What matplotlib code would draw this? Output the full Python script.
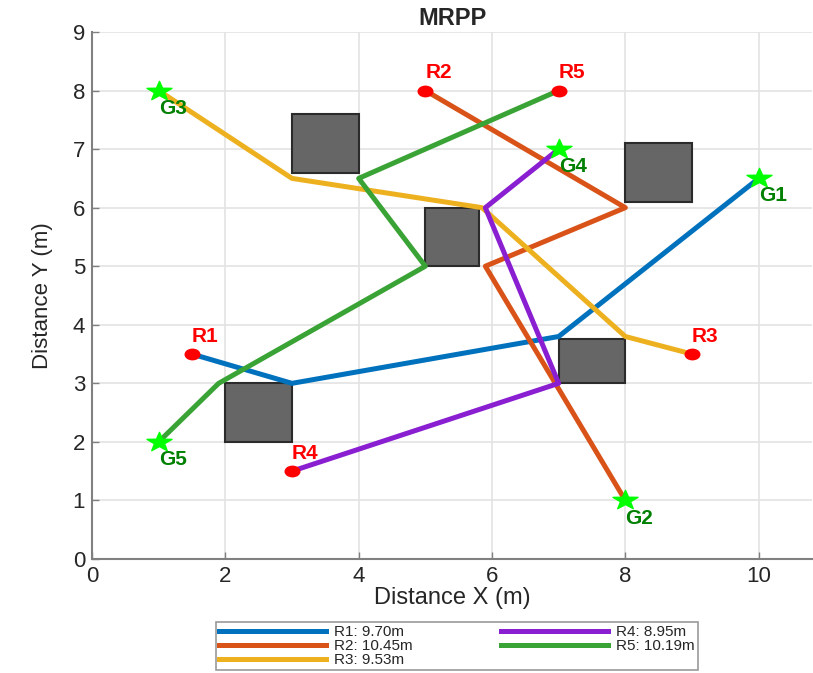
import matplotlib.pyplot as plt
from matplotlib.patches import Rectangle
from matplotlib.path import Path
from matplotlib.transforms import Affine2D

plt.rcParams['font.family'] = ['Liberation Sans', 'DejaVu Sans']

# Robot paths (waypoints in metres)
r1_x = [1.5, 3.0, 7.0, 10.0]
r1_y = [3.5, 3.0, 3.8, 6.5]
r2_x = [5.0, 8.0, 5.9, 8.0]
r2_y = [8.0, 6.0, 5.0, 1.0]
r3_x = [9.0, 8.0, 5.85, 3.0, 1.0]
r3_y = [3.5, 3.8, 6.0, 6.5, 8.0]
r4_x = [3.0, 7.0, 5.9, 7.0]
r4_y = [1.5, 3.0, 6.0, 7.0]
r5_x = [7.0, 4.0, 5.0, 1.9, 1.0]
r5_y = [8.0, 6.5, 5.0, 3.0, 2.0]
path_lengths = [9.70, 10.45, 9.53, 8.95, 10.19]
robot_names = ['R1', 'R2', 'R3', 'R4', 'R5']
goal_names = ['G1', 'G2', 'G3', 'G4', 'G5']
colors = ['#0072BD', '#D95319', '#EDB120', '#8A1FD2', '#3AA335']

# Start and goal positions
start_x = [1.5, 5.0, 9.0, 3.0, 7.0]
start_y = [3.5, 8.0, 3.5, 1.5, 8.0]
goal_x = [10.0, 8.0, 1.0, 7.0, 1.0]
goal_y = [6.5, 1.0, 8.0, 7.0, 2.0]

# Obstacles: (x, y, width, height)
obs_x = [3.0, 5.0, 8.0, 7.0, 2.0]
obs_y = [6.6, 5.0, 6.1, 3.0, 2.0]
obs_w = [1.0, 0.8, 1.0, 1.0, 1.0]
obs_h = [1.0, 1.0, 1.0, 0.75, 1.0]

paths_x = [r1_x, r2_x, r3_x, r4_x, r5_x]
paths_y = [r1_y, r2_y, r3_y, r4_y, r5_y]

# slightly wide markers
ellipse = Path.unit_circle().transformed(Affine2D().scale(1.4, 1.0))
star = Path.unit_regular_star(5, innerCircle=0.4).transformed(Affine2D().scale(1.3, 1.0))

fig = plt.figure(figsize=(8.13, 6.73), dpi=100)
ax = fig.add_axes([92 / 813, 114 / 673, 720 / 813, 527 / 673])

for ox, oy, ow, oh in zip(obs_x, obs_y, obs_w, obs_h):
    ax.add_patch(Rectangle((ox, oy), ow, oh, facecolor='#666666',
                           edgecolor='#2b2b2b', lw=1.5, zorder=2))

for i in range(5):
    ax.plot(paths_x[i], paths_y[i], color=colors[i], lw=3.6, zorder=3,
            label=f'{robot_names[i]}: {path_lengths[i]:.2f}m')

for i in range(5):
    ax.plot(start_x[i], start_y[i], marker=ellipse, ms=10.5, color='#ff0000',
            zorder=4, linestyle='none')
    ax.text(start_x[i], start_y[i] + 0.3, robot_names[i], color='#ff0000',
            fontsize=15, fontweight='bold', ha='left', va='center', zorder=5)
    ax.plot(goal_x[i], goal_y[i], marker=star, ms=18, color='#00ff00',
            zorder=4, linestyle='none')
    ax.text(goal_x[i], goal_y[i] - 0.3, goal_names[i], color='#008000',
            fontsize=15, fontweight='bold', ha='left', va='center', zorder=5)

ax.set_xlim(0, 10.8)
ax.set_ylim(0, 9)
ax.set_xticks([0, 2, 4, 6, 8, 10])
ax.set_yticks(range(10))
ax.grid(True, color='#e3e3e3', lw=1.2)
ax.set_axisbelow(True)
for side in ['top', 'right']:
    ax.spines[side].set_visible(False)
for side in ['left', 'bottom']:
    ax.spines[side].set_color('#808080')
    ax.spines[side].set_linewidth(1.5)
ax.tick_params(direction='in', length=5, width=1, color='#808080',
               labelsize=16, labelcolor='#262626', pad=5)

ax.set_title('MRPP', fontsize=17, fontweight='bold', color='#262626', pad=5)
ax.set_xlabel('Distance X (m)', fontsize=17, color='#262626', labelpad=0)
ax.set_ylabel('Distance Y (m)', fontsize=16, color='#262626', labelpad=14)

leg = fig.legend(loc='lower center', bbox_to_anchor=(457 / 813, 3 / 673), ncol=2,
                 fontsize=11, frameon=True, fancybox=False, edgecolor='#808080',
                 handlelength=7.0, handletextpad=0.5, columnspacing=5.8,
                 labelspacing=0.0, borderpad=0.2, borderaxespad=0)
leg.get_frame().set_linewidth(1.2)
for t in leg.get_texts():
    t.set_color('#262626')

fig.savefig('out.png', dpi=100)
